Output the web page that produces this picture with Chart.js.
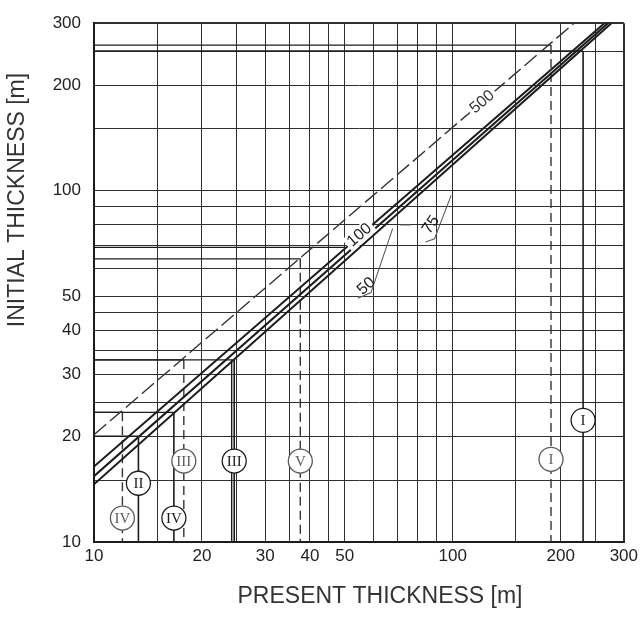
<!DOCTYPE html>
<html>
<head>
<meta charset="utf-8">
<script src="https://cdn.jsdelivr.net/npm/chart.js@4.4.1/dist/chart.umd.min.js"></script>
<style>
html,body{margin:0;padding:0;background:#fff;}
#wrap{width:642px;height:620px;}
canvas{display:block;}
</style>
</head>
<body>
<div id="wrap"><canvas id="chart" width="642" height="620"></canvas></div>
<script>
// ---------- values ----------
const xGridValues = [10,15,20,25,30,35,40,45,50,60,70,80,90,100,150,200,250,300];
const yGridValues = [10,15,20,25,30,35,40,45,50,60,70,80,90,100,150,200,250,300];
const xTickLabels = [10,20,30,40,50,100,200,300];
const yTickLabels = [10,20,30,40,50,100,200,300];

// straight curves (log-log) : start and end points
const curveNames  = ['500','100','75','50'];
const curveStartX = [10,10,10,10];
const curveStartY = [20.2,16.4,15.4,14.6];
const curveEndX   = [218,265,271,277];
const curveEndY   = [300,300,300,300];

// construction marks: initial thickness -> present thickness
const markNames   = ['I','I','V','III','III','IV','IV','II'];
const markCurve   = ['500','50','500','500','50','500','50','50'];
const markInitial = [260,250,64,33,33,23.4,23.4,20];
const markPresent = [188,231,37.6,17.8,24.6,12.0,16.7,13.3];
const markLabelAt = [17.2,22.2,17,17,17,11.7,11.7,14.7];

// second line of the III pair, and an extra step line
const pairPresent = [24.2];
const pairInitial = [33];
const stepInitial = [69];
const stepPresent = [50];

// curve labels (text centres)
const labelCurve = ['500','100','75','50'];
const labelX = [121,55,87,57.4];
const labelY = [179,74.8,80,53.5];

// leader lines
const dash75X = [71.5,76.5], dash75Y = [80,80];
const leader75X = [84,89,99], leader75Y = [71.5,73,97];
const leader50X = [54.4,59.2,68], leader50Y = [49.4,51.3,78];

// ---------- chart ----------
const INK = '#1c1c1c', GREY = '#5c5c5c', GRID = '#303030';
const pts = (xs, ys) => xs.map((x, i) => ({x: x, y: ys[i]}));
const line = (data, color, width, dash) => ({
  data: data, showLine: true, pointRadius: 0, pointHoverRadius: 0,
  borderColor: color, borderWidth: width, borderDash: dash || [], fill: false, tension: 0
});

const datasets = [];
datasets.push({
  data: pts(markPresent, markLabelAt), showLine: false,
  pointRadius: 12, pointHoverRadius: 12, pointBackgroundColor: '#fff',
  pointBorderColor: markCurve.map(c => c === '500' ? GREY : INK), pointBorderWidth: 1.3
});
curveNames.forEach((n, i) => {
  datasets.push(line(pts([curveStartX[i], curveEndX[i]], [curveStartY[i], curveEndY[i]]),
    n === '500' ? '#333' : INK, n === '500' ? 1.4 : 2, n === '500' ? [16,5] : []));
});
markNames.forEach((n, i) => {
  datasets.push(line(pts([10, markPresent[i]], [markInitial[i], markInitial[i]]), INK, 1.3));
  datasets.push(line(pts([markPresent[i], markPresent[i]], [markInitial[i], 10]),
    markCurve[i] === '500' ? '#333' : INK, markCurve[i] === '500' ? 1.4 : 1.6,
    markCurve[i] === '500' ? [9,5] : []));
});
pairPresent.forEach((p, i) => datasets.push(line(pts([p, p], [pairInitial[i], 10]), INK, 1.4)));
stepInitial.forEach((s, i) => datasets.push(line(pts([10, stepPresent[i]], [s, s]), INK, 1.2)));
datasets.push(line(pts(dash75X, dash75Y), GREY, 1.2));
datasets.push(line(pts(leader75X, leader75Y), GREY, 1.1));
datasets.push(line(pts(leader50X, leader50Y), GREY, 1.1));

const textPlugin = {
  id: 'texts',
  afterDatasetsDraw(chart) {
    const ctx = chart.ctx, x = chart.scales.x, y = chart.scales.y, a = chart.chartArea;
    ctx.save();
    ctx.textAlign = 'center'; ctx.textBaseline = 'middle';
    ctx.font = '15px "Liberation Serif"';
    markNames.forEach((n, i) => {
      ctx.fillStyle = markCurve[i] === '500' ? GREY : INK;
      ctx.fillText(n, x.getPixelForValue(markPresent[i]), y.getPixelForValue(markLabelAt[i]) + 1);
    });
    ctx.font = '16px "Liberation Sans"';
    labelCurve.forEach((n, i) => {
      const c = curveNames.indexOf(n);
      const ang = Math.atan2(y.getPixelForValue(curveEndY[c]) - y.getPixelForValue(curveStartY[c]),
                             x.getPixelForValue(curveEndX[c]) - x.getPixelForValue(curveStartX[c]));
      ctx.save();
      ctx.translate(x.getPixelForValue(labelX[i]), y.getPixelForValue(labelY[i]));
      ctx.rotate(n === '75' ? ang - 0.25 : ang);
      const w = ctx.measureText(n).width;
      if (n === '500' || n === '100') { ctx.fillStyle = '#fff'; ctx.fillRect(-w/2 - 3, -8, w + 6, 16); }
      ctx.fillStyle = n === '500' ? '#333' : INK;
      ctx.fillText(n, 0, 0);
      ctx.restore();
    });
    ctx.font = '23px "Liberation Sans"';
    ctx.fillStyle = '#333';
    ctx.fillText('PRESENT THICKNESS [m]', a.left + 286, 597);
    ctx.translate(18, 200); ctx.rotate(-Math.PI / 2);
    ctx.fillText('INITIAL THICKNESS [m]', 0, 0);
    ctx.restore();
  }
};

const edgeWidth = c => (c.tick && (c.tick.value === 10 || c.tick.value === 300)) ? 2 : 1;

new Chart(document.getElementById('chart'), {
  type: 'scatter',
  data: {datasets: datasets},
  options: {
    responsive: false, animation: false, events: [],
    layout: {padding: {left: 0, right: 16, top: 14, bottom: 0}},
    plugins: {legend: {display: false}, tooltip: {enabled: false}},
    scales: {
      x: {
        type: 'logarithmic', min: 10, max: 300,
        afterBuildTicks: s => { s.ticks = xGridValues.map(v => ({value: v})); },
        afterFit: s => { s.height = 78; },
        grid: {color: GRID, lineWidth: edgeWidth, drawTicks: false},
        border: {display: true, color: INK, width: 2},
        ticks: {autoSkip: false, maxRotation: 0, minRotation: 0, padding: 4, color: '#222',
          font: {family: 'Liberation Sans', size: 17},
          callback: v => xTickLabels.includes(v) ? String(v) : ''}
      },
      y: {
        type: 'logarithmic', min: 10, max: 300,
        afterBuildTicks: s => { s.ticks = yGridValues.map(v => ({value: v})); },
        afterFit: s => { s.width = 94; },
        grid: {color: GRID, lineWidth: edgeWidth, drawTicks: false},
        border: {display: true, color: INK, width: 2},
        ticks: {autoSkip: false, padding: 13, color: '#222',
          font: {family: 'Liberation Sans', size: 17},
          callback: v => yTickLabels.includes(v) ? String(v) : ''}
      }
    }
  },
  plugins: [textPlugin]
});
</script>
</body>
</html>
